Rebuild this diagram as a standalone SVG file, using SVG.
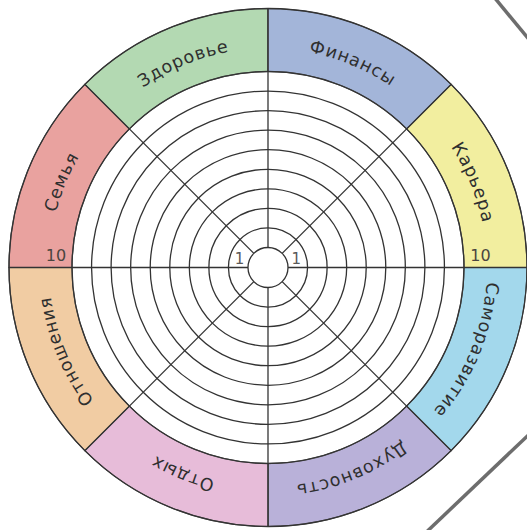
<svg xmlns="http://www.w3.org/2000/svg" width="527" height="530" viewBox="0 0 527 530">
<style>
.seg{stroke:#4a4a4a;stroke-width:1.2}
.ring{fill:none;stroke:#333;stroke-width:1.3}
.spoke{stroke:#333;stroke-width:1.3}
.lbl{font-family:"DejaVu Sans","Noto Sans",sans-serif;font-size:17.5px;letter-spacing:0.9px;fill:#2f2f2f;text-anchor:middle}
.num{font-family:"DejaVu Sans","Noto Sans",sans-serif;font-size:16px;fill:#4a4540;text-anchor:middle}
.one{font-family:"DejaVu Sans","Noto Sans",sans-serif;font-size:15px;fill:#5a5a5a;text-anchor:middle}
.edge{stroke:#6d6d6d;stroke-width:3.5;fill:none}
</style>
<defs>
<path id="tp" d="M49,267.5 A219,219 0 1 1 487,267.5 A219,219 0 1 1 49,267.5"/>
</defs>
<rect width="527" height="530" fill="#fff"/>
<g id="paper-edge">
<line class="edge" x1="494" y1="-3" x2="530" y2="40.6"/>
<line class="edge" x1="427" y1="531.5" x2="530" y2="433.5"/>
</g>
<g id="seg-karera">
<path class="seg" fill="#f2ee9f" d="M451.14,84.36 A259,259 0 0 1 527,267.5 L464,267.5 A196,196 0 0 0 406.59,128.91 Z"/>
<text class="lbl"><textPath href="#tp" startOffset="43.75%">Карьера</textPath></text>
<text class="num" x="480.5" y="261">10</text>
</g>
<g id="seg-samorazvitie">
<path class="seg" fill="#a3d8ec" d="M527,267.5 A259,259 0 0 1 451.14,450.64 L406.59,406.09 A196,196 0 0 0 464,267.5 Z"/>
<text class="lbl"><textPath href="#tp" startOffset="56.25%">Саморазвитие</textPath></text>
</g>
<g id="seg-duhovnost">
<path class="seg" fill="#b9b1d9" d="M451.14,450.64 A259,259 0 0 1 268,526.5 L268,463.5 A196,196 0 0 0 406.59,406.09 Z"/>
<text class="lbl"><textPath href="#tp" startOffset="68.75%">Духовность</textPath></text>
</g>
<g id="seg-otdyh">
<path class="seg" fill="#e7bcd9" d="M268,526.5 A259,259 0 0 1 84.86,450.64 L129.41,406.09 A196,196 0 0 0 268,463.5 Z"/>
<text class="lbl"><textPath href="#tp" startOffset="81.25%">Отдых</textPath></text>
</g>
<g id="seg-otnosheniya">
<path class="seg" fill="#f1cca3" d="M84.86,450.64 A259,259 0 0 1 9,267.5 L72,267.5 A196,196 0 0 0 129.41,406.09 Z"/>
<text class="lbl"><textPath href="#tp" startOffset="93.75%">Отношения</textPath></text>
</g>
<g id="seg-semya">
<path class="seg" fill="#e9a29f" d="M9,267.5 A259,259 0 0 1 84.86,84.36 L129.41,128.91 A196,196 0 0 0 72,267.5 Z"/>
<text class="lbl"><textPath href="#tp" startOffset="6.25%">Семья</textPath></text>
<text class="num" x="56" y="261">10</text>
</g>
<g id="seg-zdorovie">
<path class="seg" fill="#b3d9b2" d="M84.86,84.36 A259,259 0 0 1 268,8.5 L268,71.5 A196,196 0 0 0 129.41,128.91 Z"/>
<text class="lbl"><textPath href="#tp" startOffset="18.75%">Здоровье</textPath></text>
</g>
<g id="seg-finansy">
<path class="seg" fill="#a3b5d9" d="M268,8.5 A259,259 0 0 1 451.14,84.36 L406.59,128.91 A196,196 0 0 0 268,71.5 Z"/>
<text class="lbl"><textPath href="#tp" startOffset="31.25%">Финансы</textPath></text>
</g>
<g id="grid">
<circle class="ring" cx="268" cy="267.5" r="20"/>
<circle class="ring" cx="268" cy="267.5" r="39.56"/>
<circle class="ring" cx="268" cy="267.5" r="59.11"/>
<circle class="ring" cx="268" cy="267.5" r="78.67"/>
<circle class="ring" cx="268" cy="267.5" r="98.22"/>
<circle class="ring" cx="268" cy="267.5" r="117.78"/>
<circle class="ring" cx="268" cy="267.5" r="137.33"/>
<circle class="ring" cx="268" cy="267.5" r="156.89"/>
<circle class="ring" cx="268" cy="267.5" r="176.44"/>
<circle class="ring" cx="268" cy="267.5" r="196"/>
<circle class="ring" cx="268" cy="267.5" r="259" stroke="#4a4a4a" stroke-width="1.2"/>
</g>
<g id="connectors">
<line class="spoke" x1="288" y1="267.5" x2="527" y2="267.5"/>
<line class="spoke" x1="248" y1="267.5" x2="9" y2="267.5"/>
<line class="spoke" x1="268" y1="287.5" x2="268" y2="526.5"/>
<line class="spoke" x1="268" y1="247.5" x2="268" y2="8.5"/>
<line class="spoke" x1="282.14" y1="281.64" x2="451.14" y2="450.64"/>
<line class="spoke" x1="253.86" y1="281.64" x2="84.86" y2="450.64"/>
<line class="spoke" x1="253.86" y1="253.36" x2="84.86" y2="84.36"/>
<line class="spoke" x1="282.14" y1="253.36" x2="451.14" y2="84.36"/>
</g>
<g id="scale">
<text class="one" x="239.5" y="264">1</text>
<text class="one" x="296.3" y="264">1</text>
</g>
</svg>
